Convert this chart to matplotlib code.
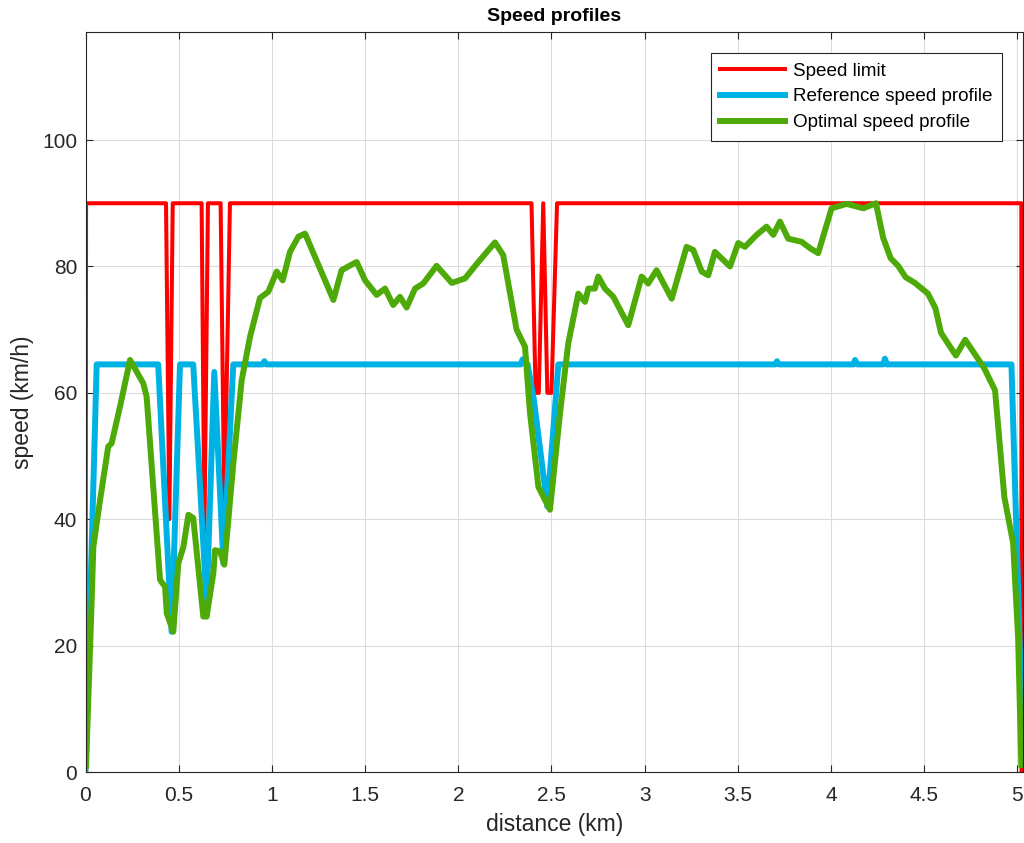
import numpy as np
import matplotlib
matplotlib.use('Agg')
import matplotlib.pyplot as plt

plt.rcParams['font.family'] = ['Liberation Sans', 'DejaVu Sans']

# speed limit along the route (km, km/h)
limit_x = [0.0, 0.003, 0.432, 0.450, 0.468, 0.623, 0.638, 0.657, 0.725, 0.745, 0.775,
           2.393, 2.415, 2.432, 2.456, 2.478, 2.500, 2.530, 5.021, 5.022]
limit_v = [0, 90, 90, 40, 90, 90, 38, 90, 90, 41, 90,
           90, 60, 60, 90, 60, 60, 90, 90, 0]

# reference speed profile
ref_x = [0.0, 0.060, 0.390, 0.462, 0.507, 0.578, 0.650, 0.691, 0.740, 0.793,
         0.950, 0.960, 0.970, 2.335, 2.345, 2.372, 2.405, 2.478, 2.537,
         3.700, 3.710, 3.720, 4.120, 4.129, 4.140, 4.280, 4.289, 4.300, 4.968, 5.030]
ref_v = [0, 64.5, 64.5, 22.2, 64.5, 64.5, 26.7, 63.3, 33.0, 64.5,
         64.5, 65.0, 64.5, 64.5, 65.3, 64.5, 59.0, 42.0, 64.5,
         64.5, 65.0, 64.5, 64.5, 65.2, 64.5, 64.5, 65.4, 64.5, 64.5, 3]

# optimal speed profile
opt_x = [0.003, 0.033, 0.042, 0.078, 0.122, 0.140, 0.185, 0.239, 0.310, 0.328,
         0.400, 0.427, 0.436, 0.471, 0.498, 0.525, 0.552, 0.578, 0.632, 0.650,
         0.686, 0.695, 0.722, 0.745, 0.793, 0.838, 0.883, 0.936, 0.981, 1.026,
         1.058, 1.097, 1.142, 1.178, 1.330, 1.374, 1.410, 1.455, 1.500, 1.562,
         1.607, 1.651, 1.687, 1.723, 1.768, 1.812, 1.884, 1.965, 2.036, 2.116,
         2.197, 2.241, 2.313, 2.358, 2.385, 2.430, 2.492, 2.546, 2.590, 2.644,
         2.680, 2.698, 2.733, 2.751, 2.787, 2.832, 2.912, 2.984, 3.019, 3.064,
         3.145, 3.225, 3.261, 3.306, 3.341, 3.377, 3.458, 3.502, 3.538, 3.601,
         3.654, 3.690, 3.726, 3.770, 3.842, 3.887, 3.931, 4.003, 4.084, 4.173,
         4.241, 4.280, 4.320, 4.360, 4.400, 4.450, 4.520, 4.560, 4.590, 4.670,
         4.720, 4.820, 4.880, 4.930, 4.977, 5.004, 5.021]
opt_v = [1.0, 27.0, 35.6, 43.0, 51.5, 52.0, 57.8, 65.2, 61.5, 59.4,
         30.4, 29.3, 25.1, 22.2, 33.0, 35.6, 40.7, 40.2, 24.6, 24.6,
         31.5, 35.1, 34.9, 32.8, 48.8, 62.0, 68.9, 75.0, 76.0, 79.2,
         77.8, 82.3, 84.7, 85.2, 74.7, 79.4, 80.0, 80.7, 77.8, 75.5,
         76.5, 73.9, 75.2, 73.5, 76.5, 77.3, 80.1, 77.4, 78.1, 81.0,
         83.8, 81.8, 70.0, 67.3, 56.8, 45.1, 41.5, 56.8, 67.8, 75.7,
         74.4, 76.5, 76.5, 78.4, 76.5, 75.2, 70.7, 78.4, 77.3, 79.4,
         74.9, 83.1, 82.6, 79.2, 78.6, 82.3, 80.0, 83.7, 83.1, 85.0,
         86.3, 85.0, 87.1, 84.4, 83.9, 82.9, 82.1, 89.2, 89.9, 89.2,
         90.0, 84.5, 81.3, 80.1, 78.3, 77.4, 75.7, 73.4, 69.5, 65.9,
         68.4, 64.0, 60.4, 43.5, 36.2, 21.1, 1.1]

fig = plt.figure(figsize=(10.24, 8.43), dpi=100)
ax = fig.add_axes([85.5 / 1024, 71 / 843, 937.5 / 1024, 740 / 843])

ax.plot(limit_x, limit_v, color='#FF0000', lw=2.9, label='Speed limit')
ax.plot(ref_x, ref_v, color='#00B2E3', lw=4.3, label='Reference speed profile')
ax.plot(opt_x, opt_v, color='#4DAA08', lw=4.3, label='Optimal speed profile')

ax.set_xlim(0, 5.03)
ax.set_ylim(0, 117.1)
ax.set_xticks(np.arange(0, 5.01, 0.5))
ax.set_xticklabels(['0', '0.5', '1', '1.5', '2', '2.5', '3', '3.5', '4', '4.5', '5'])
ax.set_yticks(np.arange(0, 101, 20))

ax.grid(True, color='#DCDCDC', lw=0.8)
ax.set_axisbelow(True)
ax.tick_params(direction='in', top=True, right=True, length=5, width=0.8,
               color='#262626', labelsize=15, labelcolor='#262626')
ax.tick_params(axis='x', pad=10)
ax.tick_params(axis='y', pad=6)
for sp in ax.spines.values():
    sp.set_color('#262626')
    sp.set_linewidth(0.8)

ax.set_title('Speed profiles', fontsize=14, fontweight='bold', pad=8)
ax.set_xlabel('distance (km)', fontsize=16.5, color='#262626', labelpad=6)
ax.set_ylabel('speed (km/h)', fontsize=16.5, color='#262626', labelpad=6)

leg = ax.legend(loc='upper right', bbox_to_anchor=(0.9776, 0.9716), borderaxespad=0,
                fontsize=13.6, handlelength=3.4, handletextpad=0.45, labelspacing=0.45,
                borderpad=0.5, fancybox=False, framealpha=1, edgecolor='#262626')
leg.get_frame().set_linewidth(0.8)

fig.savefig('out.png', dpi=100)
